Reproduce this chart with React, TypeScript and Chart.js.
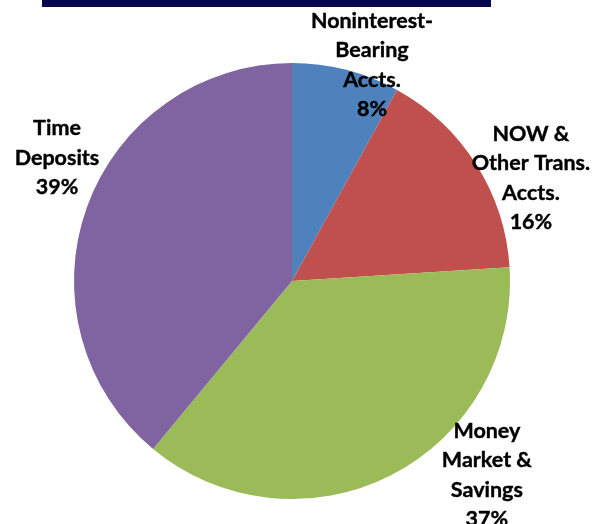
import React, { useEffect, useRef } from "react";
import { Chart, registerables } from "chart.js";

Chart.register(...registerables);

const categories = [
  ["Noninterest-", "Bearing", "Accts."],
  ["NOW &", "Other Trans.", "Accts."],
  ["Money", "Market &", "Savings"],
  ["Time", "Deposits"],
];
const shares = [8, 16, 37, 39];
const percentLabels = ["8%", "16%", "37%", "39%"];
const sliceColors = ["#4F81BD", "#C0504D", "#9BBB59", "#8064A2"];

// label block centres relative to pie centre, in units of radius
const labelAnchors = [
  [0.367, -0.99],
  [1.096, -0.472],
  [0.894, 0.89],
  [-1.078, -0.565],
];

const labelPlugin = {
  id: "pieLabels",
  afterDatasetsDraw(chart: any) {
    const meta = chart.getDatasetMeta(0);
    const ctx = chart.ctx;
    ctx.save();
    ctx.font = "bold 21.5px Lato, 'Open Sans', sans-serif";
    ctx.fillStyle = "#000000";
    ctx.strokeStyle = "#000000";
    ctx.lineWidth = 0.4;
    ctx.textAlign = "center";
    ctx.textBaseline = "middle";
    const lineH = 29.5;
    meta.data.forEach((arc: any, i: number) => {
      const lines = [...categories[i], percentLabels[i]];
      const cx = arc.x + labelAnchors[i][0] * arc.outerRadius;
      const cy = arc.y + labelAnchors[i][1] * arc.outerRadius;
      const top = cy - ((lines.length - 1) * lineH) / 2;
      lines.forEach((t, j) => {
        ctx.fillText(t, cx, top + j * lineH);
        ctx.strokeText(t, cx, top + j * lineH);
      });
    });
    ctx.restore();
  },
};

export default function App() {
  const ref = useRef<HTMLCanvasElement>(null);
  useEffect(() => {
    const chart = new Chart(ref.current!, {
      type: "pie",
      data: {
        labels: categories.map((c) => c.join(" ")),
        datasets: [
          {
            data: shares,
            backgroundColor: sliceColors,
            borderWidth: 0,
          },
        ],
      },
      options: {
        animation: false,
        responsive: false,
        layout: { padding: { top: 63, bottom: 25, left: 74, right: 86 } },
        plugins: { legend: { display: false }, tooltip: { enabled: false } },
      },
      plugins: [labelPlugin],
    });
    return () => chart.destroy();
  }, []);
  return (
    <div style={{ position: "fixed", left: 0, top: 0, width: 596, height: 524, background: "#fff" }}>
      <div style={{ position: "absolute", left: 42, top: 0, width: 449, height: 7, background: "#06064F" }} />
      <canvas ref={ref} width={596} height={524} style={{ position: "absolute", left: 0, top: 0 }} />
    </div>
  );
}
